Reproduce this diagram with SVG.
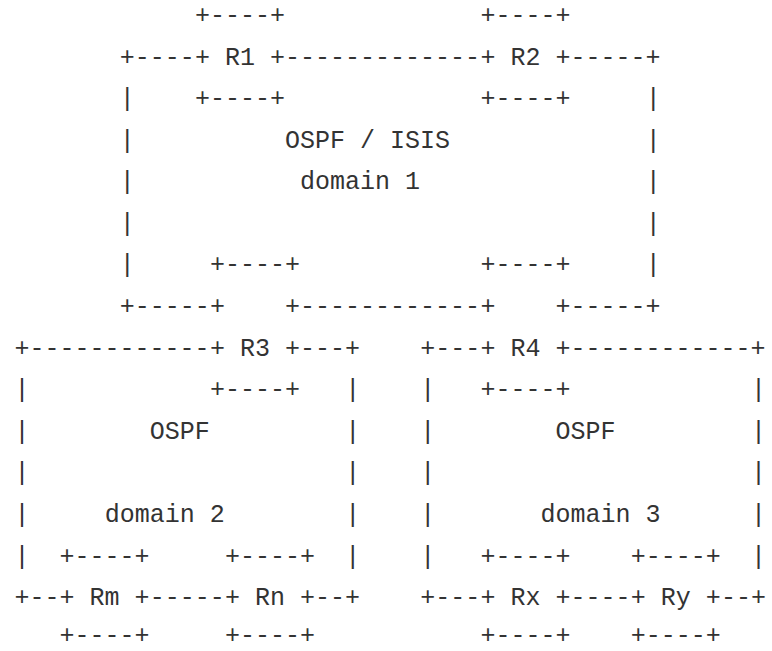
<svg xmlns="http://www.w3.org/2000/svg" width="772" height="651" viewBox="0 0 772 651" xml:space="preserve">
<style>
text{font-family:"Liberation Mono","DejaVu Sans Mono",monospace;font-size:25px;fill:#333;white-space:pre}
</style>
<rect width="772" height="651" fill="#fff"/>
<g id="domain1">
<text x="119.7" y="64.5">+----</text>
<text x="570.6" y="64.5">-----+</text>
<text x="119.7" y="106.1">|</text><text x="645.8" y="106.1">|</text>
<text x="119.7" y="147.7">|</text><text x="645.8" y="147.7">|</text>
<text x="119.7" y="189.2">|</text><text x="645.8" y="189.2">|</text>
<text x="119.7" y="230.8">|</text><text x="645.8" y="230.8">|</text>
<text x="119.7" y="272.4">|</text><text x="645.8" y="272.4">|</text>
<text x="119.7" y="314">+-----</text>
<text x="570.6" y="314">-----+</text>
<text x="285" y="147.7">OSPF / ISIS</text>
<text x="300.1" y="189.2">domain 1</text>
</g>
<g id="domain2">
<text x="14.5" y="355.6">+------------</text>
<text x="300.1" y="355.6">---+</text>
<text x="14.5" y="397.2">|</text><text x="345.2" y="397.2">|</text>
<text x="14.5" y="438.8">|</text><text x="345.2" y="438.8">|</text>
<text x="14.5" y="480.4">|</text><text x="345.2" y="480.4">|</text>
<text x="14.5" y="522">|</text><text x="345.2" y="522">|</text>
<text x="14.5" y="563.5">|</text><text x="345.2" y="563.5">|</text>
<text x="14.5" y="605.1">+--</text>
<text x="315.1" y="605.1">--+</text>
<text x="149.8" y="438.8">OSPF</text>
<text x="104.7" y="522">domain 2</text>
</g>
<g id="domain3">
<text x="420.3" y="355.6">+---</text>
<text x="570.6" y="355.6">------------+</text>
<text x="420.3" y="397.2">|</text><text x="751" y="397.2">|</text>
<text x="420.3" y="438.8">|</text><text x="751" y="438.8">|</text>
<text x="420.3" y="480.4">|</text><text x="751" y="480.4">|</text>
<text x="420.3" y="522">|</text><text x="751" y="522">|</text>
<text x="420.3" y="563.5">|</text><text x="751" y="563.5">|</text>
<text x="420.3" y="605.1">+---</text>
<text x="720.9" y="605.1">--+</text>
<text x="555.6" y="438.8">OSPF</text>
<text x="540.6" y="522">domain 3</text>
</g>
<g id="R1">
<text x="194.9" y="22.9">+----+</text>
<text x="194.9" y="64.5">+ R1 +</text>
<text x="194.9" y="106.1">+----+</text>
</g>
<g id="R2">
<text x="480.4" y="22.9">+----+</text>
<text x="480.4" y="64.5">+ R2 +</text>
<text x="480.4" y="106.1">+----+</text>
</g>
<g id="R3">
<text x="209.9" y="272.4">+----+</text>
<text x="209.9" y="314">+    +</text>
<text x="209.9" y="355.6">+ R3 +</text>
<text x="209.9" y="397.2">+----+</text>
</g>
<g id="R4">
<text x="480.4" y="272.4">+----+</text>
<text x="480.4" y="314">+    +</text>
<text x="480.4" y="355.6">+ R4 +</text>
<text x="480.4" y="397.2">+----+</text>
</g>
<g id="Rm">
<text x="59.6" y="563.5">+----+</text>
<text x="59.6" y="605.1">+ Rm +</text>
<text x="59.6" y="643">+----+</text>
</g>
<g id="Rn">
<text x="224.9" y="563.5">+----+</text>
<text x="224.9" y="605.1">+ Rn +</text>
<text x="224.9" y="643">+----+</text>
</g>
<g id="Rx">
<text x="480.4" y="563.5">+----+</text>
<text x="480.4" y="605.1">+ Rx +</text>
<text x="480.4" y="643">+----+</text>
</g>
<g id="Ry">
<text x="630.7" y="563.5">+----+</text>
<text x="630.7" y="605.1">+ Ry +</text>
<text x="630.7" y="643">+----+</text>
</g>
<g id="connectors">
<text x="285" y="64.5">-------------</text>
<text x="300.1" y="314">------------</text>
<text x="149.8" y="605.1">-----</text>
<text x="570.6" y="605.1">----</text>
</g>
</svg>
